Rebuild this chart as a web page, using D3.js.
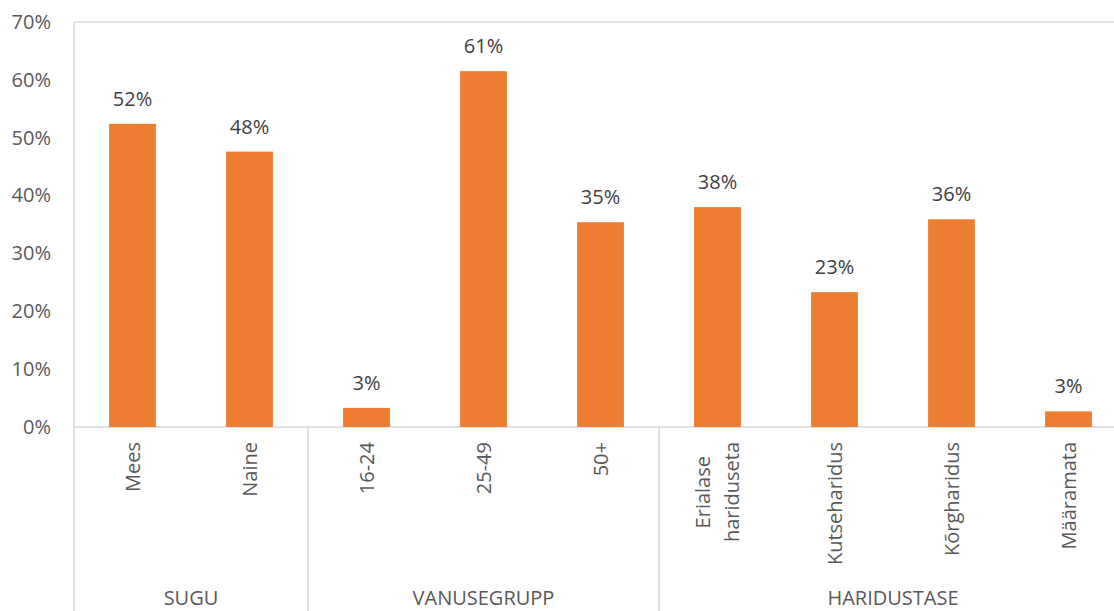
<!DOCTYPE html>
<html><head><meta charset="utf-8">
<script src="https://cdn.jsdelivr.net/npm/d3@7"></script>
<style>html,body{margin:0;padding:0;background:#fff;overflow:hidden}</style>
</head><body>
<svg id="c" width="1114" height="611"></svg>
<script>
const categories = ["Mees","Naine","16-24","25-49","50+","Erialase hariduseta","Kutseharidus","Kõrgharidus","Määramata"];
const categoryLines = [["Mees"],["Naine"],["16-24"],["25-49"],["50+"],["Erialase","hariduseta"],["Kutseharidus"],["Kõrgharidus"],["Määramata"]];
const values = [52.4, 47.6, 3.3, 61.5, 35.4, 38.0, 23.3, 35.9, 2.7];
const valueLabels = ["52%","48%","3%","61%","35%","38%","23%","36%","3%"];
const groupNames = ["SUGU","VANUSEGRUPP","HARIDUSTASE"];
const groupSizes = [2,3,4];
const yTicks = [0,10,20,30,40,50,60,70];

(function(){
const svg = d3.select("#c");
const mLeft = 74, mRight = 1127, mTop = 22, mBottom = 427;
const font = "'Open Sans', 'Noto Sans', sans-serif";
const gridCol = "#d9d9d9";

const x = d3.scaleBand().domain(categories).range([mLeft, mRight]).paddingInner(0.6).paddingOuter(0.3);
const y = d3.scaleLinear().domain([0,70]).range([mBottom, mTop]);
const step = x.step();

svg.append("line").attr("x1", mLeft).attr("x2", 1114).attr("y1", y(70)).attr("y2", y(70))
  .attr("stroke", gridCol).attr("stroke-width", 1.5);
svg.append("line").attr("x1", mLeft).attr("x2", 1114).attr("y1", y(0)).attr("y2", y(0))
  .attr("stroke", gridCol).attr("stroke-width", 1.5);
svg.append("line").attr("x1", mLeft).attr("x2", mLeft).attr("y1", y(70)).attr("y2", 611)
  .attr("stroke", gridCol).attr("stroke-width", 1.5);

const yAxis = d3.axisLeft(y).tickValues(yTicks).tickFormat(d => d + "%").tickSize(0).tickPadding(23);
const ya = svg.append("g").attr("transform", `translate(${mLeft},0)`).call(yAxis);
ya.select(".domain").remove();
ya.selectAll("text").attr("font-family", font).attr("font-size", 20).attr("fill", "#595959");

svg.selectAll("rect.bar").data(categories).enter().append("rect")
  .attr("class","bar")
  .attr("x", d => x(d)).attr("width", x.bandwidth())
  .attr("y", (d,i) => y(values[i])).attr("height", (d,i) => y(0) - y(values[i]))
  .attr("fill", "#ED7D31");

svg.selectAll("text.vl").data(categories).enter().append("text")
  .attr("class","vl")
  .attr("x", d => x(d) + x.bandwidth()/2)
  .attr("y", (d,i) => y(values[i]) - 18)
  .attr("text-anchor","middle")
  .attr("font-family", font).attr("font-size", 20).attr("fill", "#404040")
  .text((d,i) => valueLabels[i]);

categories.forEach((c,i) => {
  const cx = x(c) + x.bandwidth()/2;
  const lines = categoryLines[i];
  const n = lines.length;
  lines.forEach((ln, j) => {
    const off = (j - (n-1)/2) * 29;
    const endOff = (n > 1 && j === 0) ? 14 : 0;
    svg.append("text")
      .attr("transform", `translate(${cx + off},${mBottom + 15 + endOff}) rotate(-90)`)
      .attr("text-anchor","end")
      .attr("dy","0.35em")
      .attr("font-family", font).attr("font-size", 20).attr("fill", "#595959")
      .text(ln);
  });
});

let idx = 0;
groupNames.forEach((g, k) => {
  const start = idx, end = idx + groupSizes[k];
  const x0 = mLeft + start * step, x1 = mLeft + end * step;
  if (k > 0) {
    svg.append("line").attr("x1", x0).attr("x2", x0).attr("y1", mBottom).attr("y2", 611)
      .attr("stroke", gridCol).attr("stroke-width", 1.5);
  }
  svg.append("text").attr("x", (x0 + x1)/2).attr("y", 605)
    .attr("text-anchor","middle")
    .attr("font-family", font).attr("font-size", 20).attr("fill", "#595959")
    .text(g);
  idx = end;
});
})();
</script>
</body></html>
